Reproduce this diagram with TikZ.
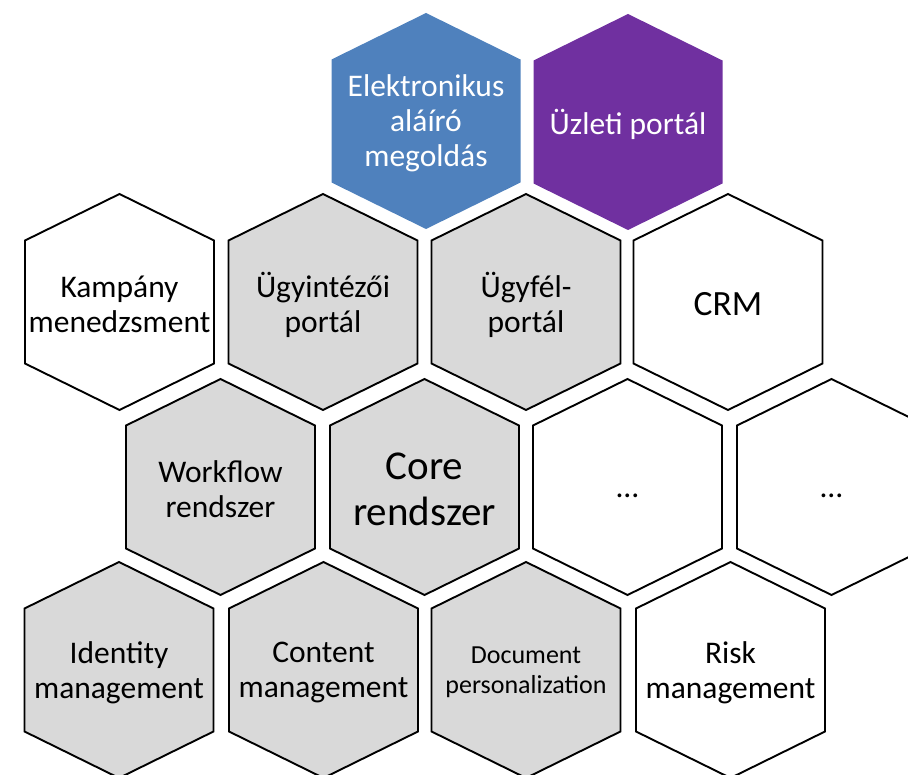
\documentclass[tikz,border=0pt]{standalone}
\usepackage{fontspec}
\setmainfont{Carlito}
\definecolor{hexblue}{HTML}{4F81BD}
\definecolor{hexpurple}{HTML}{7030A0}
\definecolor{hexgray}{HTML}{D9D9D9}
\newcommand{\hexshape}[3]{%
  \path[#3,shift={(#1,#2)}] (0,-108) -- (94.5,-61.5) -- (94.5,61.5) -- (0,108)
    -- (-94.5,61.5) -- (-94.5,-61.5) -- cycle;}
\tikzset{
  blueh/.style={fill=hexblue},
  purpleh/.style={fill=hexpurple},
  grayh/.style={fill=hexgray,draw=black,line width=1.9pt,line join=miter},
  whiteh/.style={fill=white,draw=black,line width=1.9pt,line join=miter},
  lbl/.style={align=center,inner sep=0pt,yshift=-2.5pt,font=\fontsize{31.5}{35}\selectfont},
  wlbl/.style={lbl,text=white},
}
\begin{document}
\begin{tikzpicture}[x=1pt,y=-1pt]
\useasboundingbox (0,0) rectangle (908,775);
\clip (0,0) rectangle (908,775);
% row 0
\hexshape{426}{121}{blueh}
\hexshape{628}{122}{purpleh}
% row 1
\hexshape{119.5}{302}{whiteh}
\hexshape{323}{302}{grayh}
\hexshape{526}{302}{grayh}
\hexshape{728}{302}{whiteh}
% row 2
\hexshape{220.5}{487}{grayh}
\hexshape{424.5}{487}{grayh}
\hexshape{627.5}{487}{whiteh}
\hexshape{831.5}{487}{whiteh}
% row 3
\hexshape{119}{670}{grayh}
\hexshape{323.5}{670}{grayh}
\hexshape{526}{670}{grayh}
\hexshape{730.5}{670}{whiteh}
% labels
\node[wlbl] (elek) at (426,121) {Elektronikus\\aláíró\\megoldás};
\node[wlbl] (uzleti) at (628,122) {Üzleti portál};
\node[lbl] (kamp) at (119.5,302) {Kampány\\menedzsment};
\node[lbl] (ugyint) at (323,302) {Ügyintézői\\portál};
\node[lbl] (ugyfel) at (526,302) {Ügyfél-\\portál};
\node[lbl,font=\fontsize{35.5}{40}\selectfont] (crm) at (728,302) {CRM};
\node[lbl] (workflow) at (220.5,487) {Workflow\\rendszer};
\node[lbl,font=\fontsize{41}{46}\selectfont] (core) at (424.5,487) {Core\\rendszer};
\node[lbl,anchor=base,yshift=2.5pt] (dots1) at (627.5,497) {…};
\node[lbl,anchor=base,yshift=2.5pt] (dots2) at (831.5,497) {…};
\node[lbl] (ident) at (119,670) {Identity\\management};
\node[lbl] (content) at (323.5,670) {Content\\management};
\node[lbl,font=\fontsize{26}{30}\selectfont] (docpers) at (526,670) {Document\\personalization};
\node[lbl] (risk) at (730.5,670) {Risk\\management};
\end{tikzpicture}
\end{document}
